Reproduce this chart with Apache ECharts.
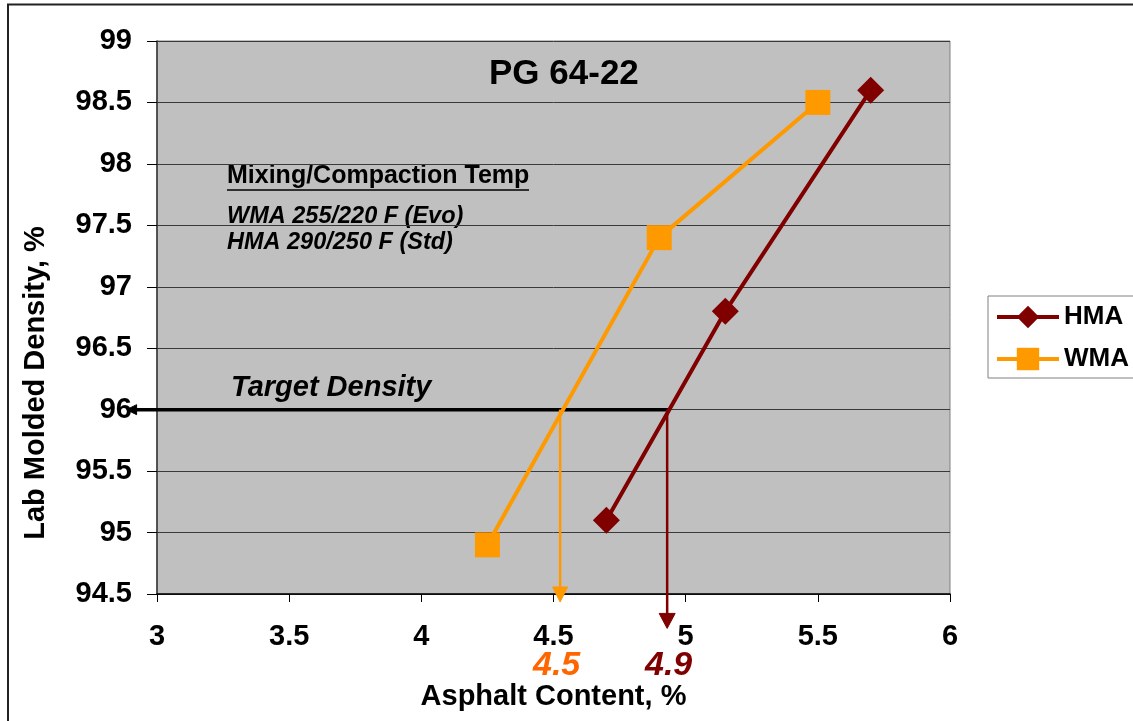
<!DOCTYPE html>
<html><head><meta charset="utf-8">
<script src="https://cdn.jsdelivr.net/npm/echarts@6/dist/echarts.min.js"></script>
<style>html,body{margin:0;padding:0;background:#fff}#c{width:1133px;height:721px}</style>
</head><body><div id="c"></div>
<script>
var hmaX = [4.7, 5.15, 5.7];
var hmaY = [95.1, 96.8, 98.6];
var wmaX = [4.25, 4.9, 5.5];
var wmaY = [94.9, 97.4, 98.5];
var targetDensity = 96;
var wmaAtTarget = 4.525;
var hmaAtTarget = 4.93;
var wmaLabel = '4.5';
var hmaLabel = '4.9';
var xTicks = [3, 3.5, 4, 4.5, 5, 5.5, 6];
var yTicks = [94.5, 95, 95.5, 96, 96.5, 97, 97.5, 98, 98.5, 99];

var HMA_C = '#800000', WMA_C = '#FF9900';
var F = '"Liberation Sans", Arial, sans-serif';
var chart = echarts.init(document.getElementById('c'));
function pairs(xs, ys){ return xs.map(function(x,i){return [x, ys[i]];}); }

function arrowSeries(name, seg, color, width, headLen, headW, z){
  return {
    name: name, type:'custom', coordinateSystem:'cartesian2d', clip:false, silent:true, z:z,
    data: [seg],
    renderItem: function(params, api){
      var p1 = api.coord([api.value(0), api.value(1)]);
      var p2 = api.coord([api.value(2), api.value(3)]);
      var dx = p2[0]-p1[0], dy = p2[1]-p1[1];
      var len = Math.sqrt(dx*dx+dy*dy); var ux = dx/len, uy = dy/len;
      var bx = p2[0]-ux*headLen, by = p2[1]-uy*headLen;
      var px = -uy, py = ux;
      return {type:'group', children:[
        {type:'line', shape:{x1:p1[0], y1:p1[1], x2:bx+ux*1, y2:by+uy*1},
         style:{stroke:color, lineWidth:width}},
        {type:'polygon', shape:{points:[[p2[0],p2[1]],[bx+px*headW/2, by+py*headW/2],[bx-px*headW/2, by-py*headW/2]]},
         style:{fill:color, stroke:color, lineWidth:1}}
      ]};
    }
  };
}

chart.setOption({
  animation: false,
  grid: {left:157, top:41, width:793, height:553, show:true, backgroundColor:'#C0C0C0', borderColor:'#808080', borderWidth:1},
  xAxis: {type:'value', min:xTicks[0], max:xTicks[xTicks.length-1], interval:0.5,
    axisLine:{show:true, onZero:false, lineStyle:{color:'#000', width:1.5}},
    axisTick:{show:true, length:8, lineStyle:{color:'#000'}},
    splitLine:{show:false},
    axisLabel:{color:'#000', fontFamily:F, fontWeight:'bold', fontSize:29, margin:28},
    name:'Asphalt Content, %', nameLocation:'middle', nameGap:88,
    nameTextStyle:{color:'#000', fontFamily:F, fontWeight:'bold', fontSize:29}},
  yAxis: {type:'value', min:yTicks[0], max:yTicks[yTicks.length-1], interval:0.5,
    axisLine:{show:true, onZero:false, lineStyle:{color:'#333', width:1.5}},
    axisTick:{show:true, length:10, lineStyle:{color:'#000'}},
    splitLine:{show:true, lineStyle:{color:'#3a3a3a', width:1}},
    axisLabel:{color:'#000', fontFamily:F, fontWeight:'bold', fontSize:29, margin:25}},
  legend: {data:['HMA','WMA'], orient:'vertical', left:988, top:296, width:144,
    backgroundColor:'#fff', borderColor:'#808080', borderWidth:1, padding:[8,7,6,7],
    itemWidth:62, itemHeight:28, itemGap:16,
    lineStyle:{width:4},
    textStyle:{color:'#000', fontFamily:F, fontWeight:'bold', fontSize:26}},
  series: [
    {name:'HMA', type:'line', data:pairs(hmaX,hmaY), symbol:'diamond', symbolSize:27,
     itemStyle:{color:HMA_C}, lineStyle:{color:HMA_C, width:4}, z:5},
    {name:'WMA', type:'line', data:pairs(wmaX,wmaY), symbol:'rect', symbolSize:25,
     itemStyle:{color:WMA_C}, lineStyle:{color:WMA_C, width:4}, z:5},
    arrowSeries('target', [hmaAtTarget+0.01, targetDensity, 2.885, targetDensity], '#000', 3.5, 10, 10, 3),
    arrowSeries('arrW', [wmaAtTarget, targetDensity, wmaAtTarget, 94.435], WMA_C, 2.5, 15, 15, 4),
    arrowSeries('arrH', [hmaAtTarget, targetDensity, hmaAtTarget, 94.22], HMA_C, 2.5, 15, 16, 4)
  ],
  graphic: [
    {type:'line', shape:{x1:7, y1:4.5, x2:1133, y2:4.5}, style:{stroke:'#222', lineWidth:2}},
    {type:'line', shape:{x1:8, y1:4, x2:8, y2:721}, style:{stroke:'#222', lineWidth:2}},
    {type:'text', x:36, y:383, rotation:Math.PI/2,
     style:{text:'Lab Molded Density, %', fill:'#000', font:'bold 29px '+F, textAlign:'center', textVerticalAlign:'middle'}},
    {type:'text', left:489, top:57, style:{text:'PG 64-22', fill:'#000', font:'bold 35px '+F}},
    {type:'text', left:227, top:164, style:{text:'Mixing/Compaction Temp', fill:'#000', font:'bold 25px '+F}},
    {type:'line', shape:{x1:227, y1:190, x2:529, y2:190}, style:{stroke:'#000', lineWidth:1.5}},
    {type:'text', left:227, top:205, style:{text:'WMA 255/220 F (Evo)', fill:'#000', font:'italic bold 23.5px '+F}},
    {type:'text', left:227, top:231, style:{text:'HMA 290/250 F (Std)', fill:'#000', font:'italic bold 23.5px '+F}},
    {type:'text', left:231, top:373, style:{text:'Target Density', fill:'#000', font:'italic bold 29px '+F}},
    {type:'text', left:533, top:649, style:{text:wmaLabel, fill:'#FF6600', font:'italic bold 34px '+F}},
    {type:'text', left:645, top:649, style:{text:hmaLabel, fill:HMA_C, font:'italic bold 34px '+F}}
  ]
});
</script></body></html>
